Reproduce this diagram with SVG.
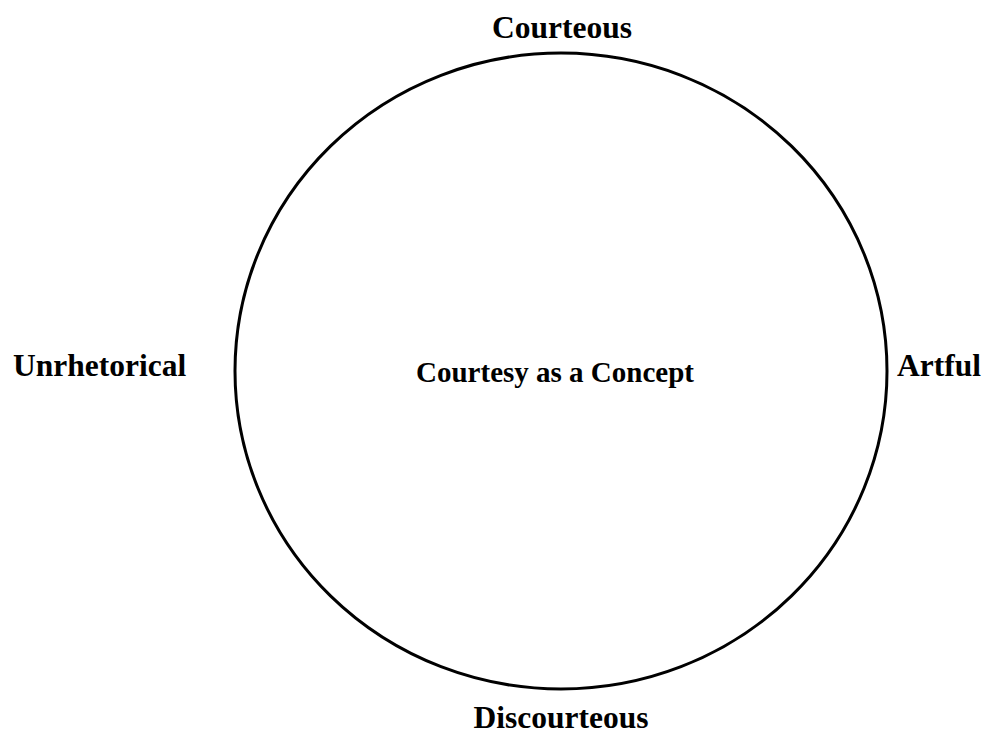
<svg xmlns="http://www.w3.org/2000/svg" width="984" height="734" viewBox="0 0 984 734">
<style>
.lbl{font-family:"Liberation Serif","Times New Roman",serif;font-weight:bold;font-size:31.5px;fill:#000}
.ctr{font-family:"Liberation Serif","Times New Roman",serif;font-weight:bold;font-size:29px;fill:#000}
</style>
<rect width="984" height="734" fill="#fff"/>
<g id="circle"><ellipse cx="561" cy="371" rx="326" ry="318" fill="none" stroke="#000" stroke-width="3"/></g>
<g id="center"><text class="ctr" x="555" y="382" text-anchor="middle">Courtesy as a Concept</text></g>
<g id="courteous"><text class="lbl" x="562" y="38" text-anchor="middle">Courteous</text></g>
<g id="discourteous"><text class="lbl" x="561" y="728" text-anchor="middle">Discourteous</text></g>
<g id="unrhetorical"><text class="lbl" x="13" y="376">Unrhetorical</text></g>
<g id="artful"><text class="lbl" x="897" y="376">Artful</text></g>
<g id="connectors"/>
</svg>
